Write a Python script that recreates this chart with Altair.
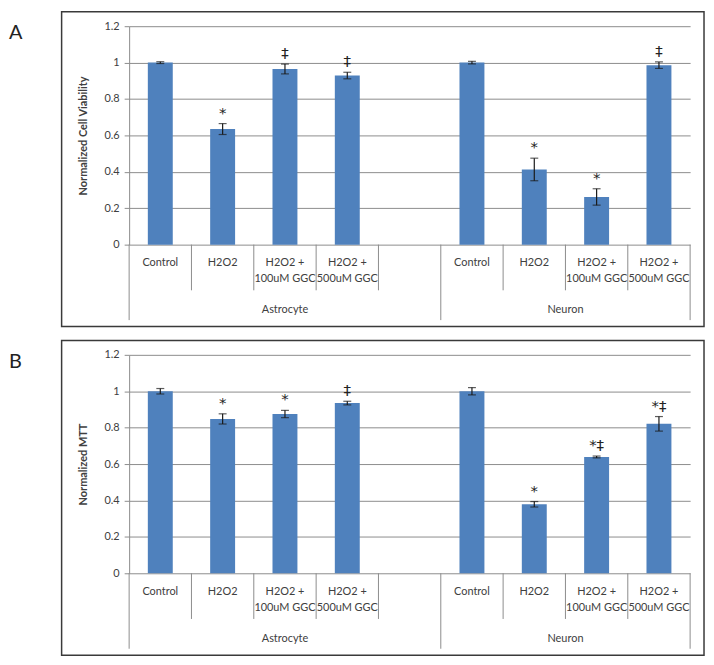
import altair as alt
import pandas as pd

# ---------------- data ----------------
cell_types = ["Astrocyte", "Neuron"]
treatments = ["Control", "H2O2", "H2O2 +\n100uM GGC", "H2O2 +\n500uM GGC"]

viability = [1.000, 0.635, 0.965, 0.929, 1.000, 0.413, 0.262, 0.986]
viability_err = [0.005, 0.030, 0.027, 0.018, 0.007, 0.062, 0.045, 0.018]
viability_sig = ["", "*", "‡", "‡", "", "*", "*", "‡"]

mtt = [1.000, 0.848, 0.875, 0.935, 1.000, 0.379, 0.639, 0.821]
mtt_err = [0.015, 0.028, 0.020, 0.010, 0.020, 0.015, 0.005, 0.040]
mtt_sig = ["", "*", "*", "‡", "", "*", "*‡", "*‡"]

y_ticks = [0, 0.2, 0.4, 0.6, 0.8, 1.0, 1.2]

# ---------------- layout constants ----------------
W, H = 565, 220
BLUE = "#4F81BD"
GRAY = "#8C8C8C"
TXT = "#404040"
FONT = "Lato"
N_SLOTS = len(treatments) * 2 + 1  # one empty slot between groups


def build_frame(values, errs, sigs):
    rows = []
    for gi, cell in enumerate(cell_types):
        offset = gi * (len(treatments) + 1)
        for ti, treat in enumerate(treatments):
            k = gi * len(treatments) + ti
            slot = offset + ti
            rows.append({
                "cell": cell,
                "treatment": treat,
                "slot": slot,
                "center": slot + 0.5,
                "x0": slot + 0.3,
                "x1": slot + 0.7,
                "value": values[k],
                "lo": values[k] - errs[k],
                "hi": values[k] + errs[k],
                "sig": sigs[k],
            })
    return pd.DataFrame(rows)


# group spans and divider positions derived from slot layout
group_rows = []
sub_div = []
grp_div = [0]
for gi, cell in enumerate(cell_types):
    start = gi * (len(treatments) + 1)
    end = start + len(treatments) + (1 if gi < len(cell_types) - 1 else 0)
    group_rows.append({"cell": cell, "mid": (start + end) / 2})
    grp_div.append(end)
    for s in range(start + 1, end):
        sub_div.append(s)
groups_df = pd.DataFrame(group_rows)
sub_df = pd.DataFrame({"pos": sub_div})
grp_df = pd.DataFrame({"pos": grp_div})
one = pd.DataFrame({"k": [0]})

xscale = alt.Scale(domain=[0, N_SLOTS], nice=False, zero=False, padding=0)
yscale = alt.Scale(domain=[0, 1.2], nice=False, padding=0)


def panel(values, errs, sigs, ytitle, letter):
    df = build_frame(values, errs, sigs)
    base = alt.Chart(df)
    yaxis = alt.Axis(
        values=y_ticks, format="~g", title=ytitle, grid=True,
        gridColor=GRAY, gridOpacity=1, domainColor=GRAY, tickColor=GRAY,
        tickSize=5, labelFont=FONT, labelFontSize=11, labelColor=TXT,
        labelPadding=5, titleFont=FONT, titleFontSize=11, titleFontWeight="bold",
        titleColor=TXT, titlePadding=16,
    )

    def X(field):
        return alt.X(field, scale=xscale, axis=None)

    def Y(field):
        return alt.Y(field, scale=yscale, axis=yaxis, title=ytitle)

    box = alt.Chart(one).mark_rect(fillOpacity=0, stroke="#3a3a3a", strokeWidth=1.5).encode(
        x=alt.value(-68), x2=alt.value(W + 14), y=alt.value(-14.5), y2=alt.value(H + 82.5)
    )
    lab = alt.Chart(one).mark_text(
        text=letter, align="left", baseline="middle", fontSize=20, font=FONT, color="#222"
    ).encode(x=alt.value(-121), y=alt.value(7))

    bars = base.mark_bar(color=BLUE).encode(
        x=X("x0:Q"), x2="x1:Q", y=Y("value:Q"), y2=alt.datum(0)
    )
    err = base.mark_rule(color="#1a1a1a", strokeWidth=1.2).encode(
        x=X("center:Q"), y=Y("lo:Q"), y2="hi:Q"
    )
    cap_lo = base.mark_tick(color="#1a1a1a", orient="horizontal", size=8, thickness=1.2).encode(
        x=X("center:Q"), y=Y("lo:Q")
    )
    cap_hi = base.mark_tick(color="#1a1a1a", orient="horizontal", size=8, thickness=1.2).encode(
        x=X("center:Q"), y=Y("hi:Q")
    )
    sig = base.mark_text(
        font="DejaVu Sans", fontSize=15, color="#222", baseline="bottom", dy=-3
    ).encode(x=X("center:Q"), y=Y("hi:Q"), text="sig:N")
    cat = base.mark_text(
        font=FONT, fontSize=11, color=TXT, baseline="top", lineBreak="\n", lineHeight=16
    ).encode(x=X("center:Q"), y=alt.value(H + 13), text="treatment:N")
    grp = alt.Chart(groups_df).mark_text(
        font=FONT, fontSize=11, color=TXT, baseline="middle"
    ).encode(x=X("mid:Q"), y=alt.value(H + 66), text="cell:N")
    sub_lines = alt.Chart(sub_df).mark_rule(color=GRAY, strokeWidth=1).encode(
        x=X("pos:Q"), y=alt.value(H), y2=alt.value(H + 46)
    )
    grp_lines = alt.Chart(grp_df).mark_rule(color=GRAY, strokeWidth=1).encode(
        x=X("pos:Q"), y=alt.value(H), y2=alt.value(H + 76)
    )
    return alt.layer(box, lab, bars, err, cap_lo, cap_hi, sig, sub_lines, grp_lines, cat, grp).properties(
        width=W, height=H
    )


chart_a = panel(viability, viability_err, viability_sig, "Normalized Cell Viability", "A")
chart_b = panel(mtt, mtt_err, mtt_sig, "Normalized MTT", "B")

chart = alt.vconcat(chart_a, chart_b, spacing=11).properties(
    padding={"left": 0, "top": 0, "right": 0, "bottom": 0}, background="white"
).configure_view(stroke="transparent")

chart.save("out.html", embed_options={"renderer": "svg", "actions": False})
